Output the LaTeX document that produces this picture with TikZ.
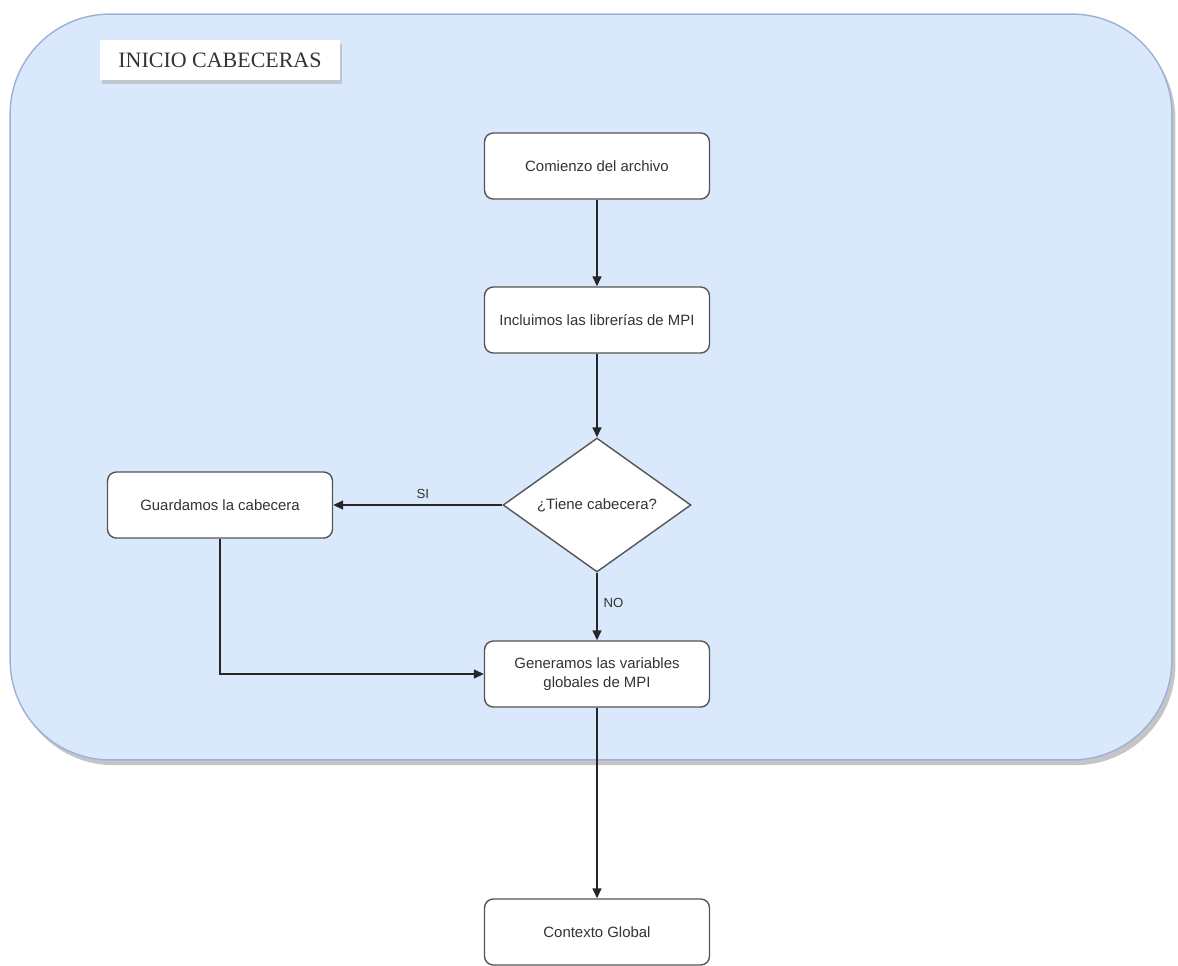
\documentclass[tikz,border=0pt]{standalone}
\usepackage{fontspec}
\setmainfont{Liberation Sans}
\newfontfamily\titlefont{Liberation Serif}
\usetikzlibrary{arrows.meta,positioning,shapes.geometric,shadows}

\definecolor{groupfill}{HTML}{DAE8FC}
\definecolor{groupline}{HTML}{9DB1D6}
\definecolor{boxline}{HTML}{555555}

\begin{document}
\begin{tikzpicture}[
  x=0.02cm, y=-0.02cm,
  group/.style={
    draw=groupline,
    fill=groupfill,
    rounded corners=2cm,
    line width=0.8pt,
    drop shadow={shadow xshift=2pt, shadow yshift=-3pt, fill=black!45}
  },
  titlebox/.style={
    fill=white,
    inner sep=0pt,
    minimum width=4.8cm,
    minimum height=0.8cm,
    font=\titlefont\fontsize{12.5}{14}\selectfont,
    text=black!80,
    drop shadow={shadow xshift=1pt, shadow yshift=-2pt, fill=black!35}
  },
  stepbox/.style={
    draw=boxline,
    fill=white,
    line width=0.8pt,
    rounded corners=5pt,
    align=center,
    minimum width=4.5cm,
    minimum height=1.32cm,
    font=\fontsize{8.5}{11}\selectfont,
    text=black!80
  },
  decision/.style={
    draw=boxline,
    fill=white,
    line width=0.8pt,
    diamond,
    inner sep=0pt,
    minimum width=3.76cm,
    minimum height=2.68cm,
    font=\fontsize{8.5}{11}\selectfont,
    text=black!80
  },
  arrow/.style={-{Triangle[length=2mm,width=1.8mm]}, line width=0.8pt, draw=black!85},
  branch/.style={font=\fontsize{7.5}{9}\selectfont, text=black!80}
]

\useasboundingbox (0,0) rectangle (1178,965);

% contenedor
\node[group, minimum width=23.24cm, minimum height=14.92cm, inner sep=0pt] (group) at (591,387) {};
\node[titlebox] (title) at (220,60) {INICIO CABECERAS};

% pasos
\node[stepbox] (start) at (597,166) {Comienzo del archivo};
\node[stepbox] (libs) at (597,320) {Incluimos las librerías de MPI};
\node[decision] (check) at (597,505) {¿Tiene cabecera?};
\node[stepbox] (save) at (220,505) {Guardamos la cabecera};
\node[stepbox] (globals) at (597,674) {Generamos las variables\\globales de MPI};
\node[stepbox] (context) at (597,932) {Contexto Global};

\draw[arrow] (start) -- (libs);
\draw[arrow] (libs) -- (check);
\draw[arrow] (check) -- node[branch, above, pos=0.47] {SI} (save);
\draw[arrow] (check) -- node[branch, right, pos=0.45] {NO} (globals);
\draw[arrow] (save.south) |- (globals.west);
\draw[arrow] (globals) -- (context);

\end{tikzpicture}
\end{document}
